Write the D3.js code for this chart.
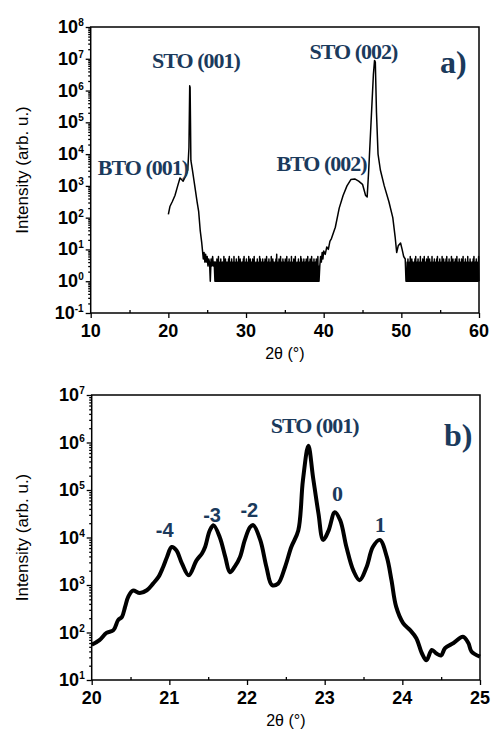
<!DOCTYPE html>
<html>
<head>
<meta charset="utf-8">
<script src="https://cdn.jsdelivr.net/npm/d3@7"></script>
<style>
  body { margin: 0; background: #fff; }
  svg { display: block; }
</style>
</head>
<body>
<svg id="chart" width="493" height="740"></svg>
<script>
// Panel a) wide 2theta scan: [2theta, intensity]
const wideScanStart = [
  [20.0, 126], [20.2, 224], [20.5, 316], [20.85, 500], [21.2, 1000], [21.5, 1780],
  [21.7, 1580], [21.9, 1410], [22.2, 2000], [22.5, 3160], [22.65, 15800],
  [22.75, 1410000], [22.8, 1260000], [22.85, 100000], [22.9, 6300], [23.1, 3160],
  [23.4, 1000], [23.7, 316], [23.9, 158], [24.1, 40], [24.3, 16], [24.4, 9],
  [24.5, 5], [24.6, 8], [24.7, 4], [24.8, 7], [24.9, 4], [25.0, 6], [25.1, 3],
  [25.2, 5], [25.3, 4], [25.4, 1], [25.5, 5], [25.6, 3], [25.7, 6], [25.8, 3], [25.9, 4]
];
// background counts, one every 0.05 deg from 26.0 to 39.4
const noiseCountsLow =
  "14131514161314151314" + "13161415131413151613" + "14151314161413151413" +
  "16141514131415161314" + "15131416141513141513" + "16141314151314161513" +
  "14151314151416131415" + "13141613151413141517" + "13141513161413151413" +
  "15141613141513141613" + "14151316141314151314" + "16151314151314151416" +
  "13141513161413151314" + "151416131";
const wideScanMiddle = [
  [39.5, 3], [39.6, 6], [39.7, 4], [39.8, 8], [39.9, 5], [40.0, 9], [40.2, 7],
  [40.4, 12], [40.6, 10], [40.8, 18], [41.0, 22], [41.5, 50], [42.0, 200],
  [42.5, 500], [43.0, 1000], [43.5, 1580], [44.0, 1660], [44.5, 1410], [45.0, 1120],
  [45.4, 500], [45.6, 450], [45.8, 3160], [46.1, 100000], [46.4, 3160000],
  [46.55, 8900000], [46.65, 7900000], [46.8, 200000], [47.0, 10000], [47.3, 3160],
  [47.8, 1000], [48.4, 316], [48.9, 100], [49.2, 25], [49.4, 8], [49.6, 13],
  [49.9, 16], [50.1, 10], [50.3, 6], [50.5, 5], [50.6, 1]
];
// background counts, one every 0.05 deg from 50.7 to 60.0
const noiseCountsHigh =
  "14151314161315141314" + "15161314151314161413" + "15141613141513161415" +
  "13141613141513141516" + "13141513141614151314" + "15161314151314161415" +
  "13141513161413151413" + "15141613141513141614" + "13151413141516131415" +
  "1314161";

// Panel b) fine scan around STO (001): [2theta, intensity]
const fineScan = [
  [20.00, 55], [20.10, 69], [20.19, 98], [20.28, 112], [20.34, 182], [20.39, 214],
  [20.43, 347], [20.47, 562], [20.53, 760], [20.62, 676], [20.71, 776], [20.79, 1070],
  [20.86, 1480], [20.92, 2400], [20.97, 3900], [21.03, 6300], [21.09, 5400],
  [21.16, 2900], [21.25, 1600], [21.35, 3300], [21.42, 4600], [21.46, 6300],
  [21.52, 14000], [21.57, 18000], [21.65, 10000], [21.72, 3900], [21.78, 1860],
  [21.84, 2400], [21.91, 3900], [21.97, 8700], [22.04, 16600], [22.08, 18200],
  [22.17, 8900], [22.25, 2400], [22.32, 1000], [22.40, 1070], [22.49, 2400],
  [22.57, 6300], [22.66, 14000], [22.72, 160000], [22.79, 850000], [22.85, 186000],
  [22.92, 32000], [22.98, 8900], [23.05, 14000], [23.13, 34000], [23.20, 23000],
  [23.28, 6300], [23.37, 2000], [23.45, 1260], [23.54, 2400], [23.62, 6300],
  [23.71, 8900], [23.80, 3900], [23.86, 1260], [23.92, 350], [24.01, 158],
  [24.10, 112], [24.18, 76], [24.25, 37], [24.31, 26], [24.38, 43], [24.44, 36],
  [24.50, 33], [24.55, 47], [24.66, 60], [24.78, 81], [24.85, 60], [24.89, 40],
  [25.00, 31]
];

// tick values
const wideXTicks = [10, 20, 30, 40, 50, 60];
const wideXMinor = [15, 25, 35, 45, 55];
const wideExponents = [-1, 0, 1, 2, 3, 4, 5, 6, 7, 8];
const fineXTicks = [20, 21, 22, 23, 24, 25];
const fineXMinor = [20.5, 21.5, 22.5, 23.5, 24.5];
const fineExponents = [1, 2, 3, 4, 5, 6, 7];

// annotations: [text, 2theta, intensity, kind]
const wideLabels = [
  ["STO (001)", 23.56, 5100000, "peak"],
  ["BTO (001)", 16.73, 2200, "peak"],
  ["STO (002)", 43.84, 9800000, "peak"],
  ["BTO (002)", 39.72, 2950, "peak"],
  ["a)", 56.7, 3500000, "panel"]
];
const fineLabels = [
  ["-4", 20.94, 10200, "order"],
  ["-3", 21.55, 21000, "order"],
  ["-2", 22.03, 27000, "order"],
  ["STO (001)", 22.87, 1580000, "peak"],
  ["0", 23.16, 59000, "peak"],
  ["1", 23.71, 13200, "peak"],
  ["b)", 24.72, 850000, "panel"]
];

const svg = d3.select("#chart");
const navy = "#1b3a5c";

// expand the noise strings into points on their 0.05 deg grid
let noisePoints = (counts, start) =>
  counts.split("").map((c, i) => [+(start + i * 0.05).toFixed(2), +c]);

const wideScan = wideScanStart
  .concat(noisePoints(noiseCountsLow, 26.0))
  .concat(wideScanMiddle)
  .concat(noisePoints(noiseCountsHigh, 50.7));

let drawPanel = (p) => {
  let x = d3.scaleLinear().domain(p.xDomain).range([p.left, p.right]);
  let y = d3.scaleLog()
    .domain([Math.pow(10, p.exponents[0]), Math.pow(10, p.exponents[p.exponents.length - 1])])
    .range([p.bottom, p.top]);

  let g = svg.append("g");

  // minor log ticks on the y axis
  let minor = [];
  p.exponents.slice(0, -1).forEach((e) => {
    for (let k = 2; k <= 9; k++) minor.push(k * Math.pow(10, e));
  });
  g.append("g")
    .attr("transform", "translate(" + p.left + ",0)")
    .call(d3.axisLeft(y).tickValues(minor).tickSize(2.5).tickFormat(""));
  g.append("g")
    .attr("transform", "translate(" + p.left + ",0)")
    .call(d3.axisLeft(y).tickValues(p.exponents.map((e) => Math.pow(10, e))).tickSize(5).tickFormat(""));

  // x axis: major ticks out, minor ticks in
  g.append("g")
    .attr("transform", "translate(0," + p.bottom + ")")
    .call(d3.axisBottom(x).tickValues(p.xTicks).tickSize(5).tickFormat(""));
  g.append("g")
    .attr("transform", "translate(0," + p.bottom + ")")
    .call(d3.axisBottom(x).tickValues(p.xMinor).tickSize(-3).tickFormat(""));

  g.selectAll(".domain").remove();
  g.selectAll(".tick line").attr("stroke", "#000").attr("stroke-width", 1.3);

  // frame
  g.append("rect")
    .attr("x", p.left).attr("y", p.top)
    .attr("width", p.right - p.left).attr("height", p.bottom - p.top)
    .attr("fill", "none").attr("stroke", "#000").attr("stroke-width", 1.5);

  // y tick labels 10^n
  let yl = g.selectAll(".ylab").data(p.exponents).enter().append("text")
    .attr("x", p.left - 7)
    .attr("y", (e) => y(Math.pow(10, e)) + 6)
    .attr("text-anchor", "end")
    .style("font-family", "Liberation Sans, Arial, sans-serif")
    .style("font-weight", "bold")
    .style("font-size", "18px");
  yl.append("tspan").text("10");
  yl.append("tspan").attr("dy", -7).style("font-size", "10px").text((e) => e);

  // x tick labels
  g.selectAll(".xlab").data(p.xTicks).enter().append("text")
    .attr("x", (d) => x(d))
    .attr("y", p.bottom + 24)
    .attr("text-anchor", "middle")
    .style("font-family", "Liberation Sans, Arial, sans-serif")
    .style("font-weight", "bold")
    .style("font-size", "18px")
    .text((d) => d);

  // axis titles
  g.append("text")
    .attr("transform", "translate(" + 28 + "," + (p.top + p.bottom) / 2 + ") rotate(-90)")
    .attr("text-anchor", "middle")
    .style("font-family", "Liberation Sans, Arial, sans-serif")
    .style("font-size", "17px")
    .text("Intensity (arb. u.)");
  g.append("text")
    .attr("x", (p.left + p.right) / 2)
    .attr("y", p.bottom + 46)
    .attr("text-anchor", "middle")
    .style("font-family", "Liberation Sans, Arial, sans-serif")
    .style("font-size", "16px")
    .text("2\u03b8 (\u00b0)");

  // data line
  let line = d3.line()
    .x((d) => x(d[0]))
    .y((d) => y(Math.max(d[1], 1e-9)))
    .curve(p.curve);
  g.append("path")
    .datum(p.data)
    .attr("d", line)
    .attr("fill", "none")
    .attr("stroke", "#000")
    .attr("stroke-width", p.lineWidth)
    .attr("stroke-linejoin", "round");

  // annotations
  g.selectAll(".ann").data(p.labels).enter().append("text")
    .attr("x", (d) => x(d[1]))
    .attr("y", (d) => y(d[2]))
    .attr("text-anchor", "middle")
    .attr("fill", navy)
    .style("font-family", (d) => d[3] === "order" ? "Liberation Sans, Arial, sans-serif" : "Liberation Serif, Times New Roman, serif")
    .style("font-weight", "bold")
    .style("font-size", (d) => d[3] === "panel" ? "32px" : d[3] === "peak" ? "22px" : "20px")
    .style("letter-spacing", (d) => d[3] === "peak" ? "-1px" : "0px")
    .text((d) => d[0]);
};

drawPanel({
  left: 90.7, right: 479, top: 27, bottom: 313,
  xDomain: [10, 60], xTicks: wideXTicks, xMinor: wideXMinor,
  exponents: wideExponents, data: wideScan, labels: wideLabels,
  curve: d3.curveLinear, lineWidth: 1.5
});

drawPanel({
  left: 91.7, right: 480, top: 395, bottom: 680,
  xDomain: [20, 25], xTicks: fineXTicks, xMinor: fineXMinor,
  exponents: fineExponents, data: fineScan, labels: fineLabels,
  curve: d3.curveCatmullRom, lineWidth: 4
});
</script>
</body>
</html>
